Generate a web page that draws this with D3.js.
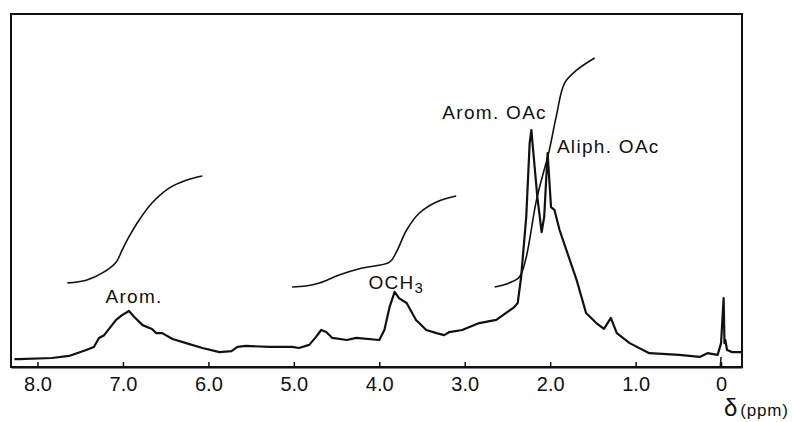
<!DOCTYPE html>
<html>
<head>
<meta charset="utf-8">
<script src="https://cdn.jsdelivr.net/npm/d3@7"></script>
<style>
  body { margin: 0; background: #fff; }
  text { font-family: "Liberation Sans", Arial, sans-serif; fill: #111; }
</style>
</head>
<body>
<div id="chart"></div>
<script>
// spectrum trace: chemical shift (ppm) and intensity (arbitrary, 0-100)
let shift = [8.27, 8.22, 7.83, 7.63, 7.43, 7.34, 7.28, 7.22, 7.08, 7.01, 6.93, 6.87, 6.77, 6.66, 6.61, 6.54, 6.42, 6.26, 6.07, 5.87,
  5.73, 5.66, 5.56, 5.29, 5.02, 4.94, 4.82, 4.74, 4.68, 4.62, 4.55, 4.38, 4.27, 4.00, 3.94, 3.88, 3.82, 3.77, 3.68, 3.57,
  3.45, 3.33, 3.24, 3.18, 3.03, 2.83, 2.63, 2.42, 2.38, 2.34, 2.28, 2.24, 2.22, 2.21, 2.15, 2.10, 2.07, 2.03, 1.99, 1.95,
  1.89, 1.81, 1.69, 1.58, 1.46, 1.37, 1.29, 1.22, 1.07, 0.84, 0.49, 0.25, 0.16, 0.04, 0.00, -0.03, -0.04, -0.05, -0.07, -0.13, -0.25];
let intensity = [2.3, 2.3, 2.6, 3.2, 4.9, 5.8, 8.4, 9.2, 13.6, 15.0, 16.2, 14.5, 12.1, 11.0, 9.8, 9.8, 8.1, 6.9, 5.5, 4.3,
  4.6, 5.8, 6.1, 5.8, 5.8, 5.5, 6.4, 8.7, 10.7, 10.1, 8.4, 7.8, 8.4, 7.8, 10.7, 17.3, 21.7, 19.9, 18.5, 13.6,
  10.7, 9.8, 9.2, 10.1, 10.7, 12.7, 13.6, 17.3, 18.5, 26.0, 43.4, 64.7, 68.5, 65.6, 49.1, 39.0, 43.4, 61.8, 46.2, 45.4,
  39.6, 33.8, 25.1, 15.6, 12.7, 11.0, 14.2, 9.8, 6.9, 4.0, 3.5, 2.9, 4.0, 3.5, 6.9, 19.9, 6.9, 7.8, 4.9, 4.3, 4.3];

// integral traces
let integ1Shift = [7.65, 7.43, 7.24, 7.08, 7.01, 6.93, 6.81, 6.66, 6.46, 6.26, 6.07];
let integ1Value = [24.3, 25.1, 27.2, 30.3, 33.8, 37.6, 42.5, 47.4, 51.7, 54.0, 55.2];
let integ2Shift = [5.02, 4.86, 4.70, 4.47, 4.20, 3.88, 3.80, 3.68, 3.53, 3.33, 3.10];
let integ2Value = [23.1, 23.4, 24.3, 26.6, 28.6, 30.3, 33.2, 39.6, 44.5, 47.7, 49.4];
let integ3Shift = [2.65, 2.48, 2.36, 2.28, 2.16, 2.01, 1.93, 1.83, 1.69, 1.48];
let integ3Value = [23.1, 24.3, 26.0, 31.8, 48.3, 62.7, 72.3, 82.1, 85.8, 89.3];
let tmsShift = [0.0, 0.01];
let tmsValue = [2.9, 0];

let tickValues = [8, 7, 6, 5, 4, 3, 2, 1, 0];
let labels = [
  {text: "Arom.", sub: "", ppm: 6.87, val: 18.5},
  {text: "OCH", sub: "3", ppm: 3.80, val: 22.4},
  {text: "Arom. OAc", sub: "", ppm: 2.65, val: 71.8},
  {text: "Aliph. OAc", sub: "", ppm: 1.32, val: 61.8}
];

let width = 792, height = 422;
let frame = {left: 11, right: 742, top: 14, bottom: 367};

let svg = d3.select("#chart").append("svg")
  .attr("width", width)
  .attr("height", height);

let x = d3.scaleLinear().domain([8.31, -0.245]).range([frame.left, frame.right]);
let y = d3.scaleLinear().domain([0, 100]).range([frame.bottom, frame.bottom - 346]);

// frame
svg.append("rect")
  .attr("x", frame.left).attr("y", frame.top)
  .attr("width", frame.right - frame.left)
  .attr("height", frame.bottom - frame.top)
  .attr("fill", "none")
  .attr("stroke", "#111")
  .attr("stroke-width", 2);

// axis with inward ticks
let axis = svg.append("g")
  .attr("transform", "translate(0," + frame.bottom + ")")
  .call(d3.axisBottom(x)
    .tickValues(tickValues)
    .tickSizeInner(-5)
    .tickSizeOuter(0)
    .tickFormat(function(d){ return d === 0 ? "0" : d.toFixed(1); }));
axis.select(".domain").attr("stroke", "#111").attr("stroke-width", 2);
axis.selectAll(".tick line").attr("stroke", "#111").attr("stroke-width", 1.5);
axis.selectAll(".tick text")
  .attr("y", 10)
  .attr("fill", "#111")
  .style("font-family", "'Liberation Sans', Arial, sans-serif")
  .style("font-size", "20px");

let line = d3.line()
  .x(function(d){ return x(d[0]); })
  .y(function(d){ return y(d[1]); });
let smooth = d3.line()
  .x(function(d){ return x(d[0]); })
  .y(function(d){ return y(d[1]); })
  .curve(d3.curveCatmullRom);

function pairs(a, b){ return a.map(function(v, i){ return [v, b[i]]; }); }

// integrals (thin)
[[integ1Shift, integ1Value], [integ2Shift, integ2Value], [integ3Shift, integ3Value]].forEach(function(s){
  svg.append("path")
    .attr("d", smooth(pairs(s[0], s[1])))
    .attr("fill", "none")
    .attr("stroke", "#111")
    .attr("stroke-width", 1.6);
});
svg.append("path")
  .attr("d", line(pairs(tmsShift, tmsValue)))
  .attr("fill", "none")
  .attr("stroke", "#111")
  .attr("stroke-width", 1.5);

// spectrum
svg.append("path")
  .attr("d", line(pairs(shift, intensity)))
  .attr("fill", "none")
  .attr("stroke", "#111")
  .attr("stroke-width", 2.2)
  .attr("stroke-linejoin", "round");

// peak labels
let peak = svg.selectAll("text.peak")
  .data(labels)
  .enter().append("text")
  .attr("class", "peak")
  .attr("x", function(d){ return x(d.ppm); })
  .attr("y", function(d){ return y(d.val); })
  .attr("text-anchor", "middle")
  .style("font-size", "19px")
  .style("letter-spacing", "1.3px");
peak.append("tspan").text(function(d){ return d.text; });
peak.append("tspan")
  .attr("dy", 4)
  .style("font-size", "15px")
  .text(function(d){ return d.sub; });

// axis title
let title = svg.append("text")
  .attr("x", 724)
  .attr("y", 416);
title.append("tspan").style("font-size", "24px").text("\u03b4");
title.append("tspan").attr("dx", 3).style("font-size", "17px").style("letter-spacing", "0.8px").text("(ppm)");
</script>
</body>
</html>
